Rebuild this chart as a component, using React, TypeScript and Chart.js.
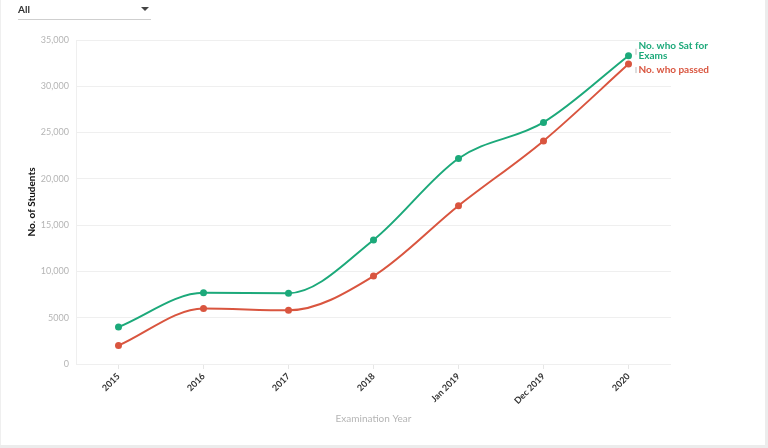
import React, { useEffect, useRef } from "react";
import { Chart, registerables } from "chart.js";

Chart.register(...registerables);

const categories = ["2015", "2016", "2017", "2018", "Jan 2019", "Dec 2019", "2020"];
const satForExams = [4000, 7700, 7650, 13400, 22200, 26100, 33300];
const passed = [2000, 6000, 5800, 9500, 17100, 24100, 32400];
const yTicks = [0, 5000, 10000, 15000, 20000, 25000, 30000, 35000];
const seriesNames = ["No. who Sat for Exams", "No. who passed"];
const endLabels = [["No. who Sat for", "Exams"], ["No. who passed"]];

const GREEN = "#1ca97a";
const RED = "#d9553f";
const FONT = "Lato, 'Noto Sans', sans-serif";

const endLabelPlugin = {
  id: "endLabels",
  afterDatasetsDraw(chart: any) {
    const ctx = chart.ctx;
    const x = chart.scales.x;
    const y = chart.scales.y;
    const lastIdx = categories.length - 1;
    const px = x.getPixelForValue(lastIdx);
    ctx.save();
    ctx.font = `bold 10px ${FONT}`;
    ctx.textBaseline = "middle";
    ctx.textAlign = "left";
    // green label (two lines) above its point
    const gy = y.getPixelForValue(satForExams[lastIdx]);
    const ry = y.getPixelForValue(passed[lastIdx]);
    ctx.fillStyle = GREEN;
    ctx.fillText(endLabels[0][0], px + 10, gy - 10);
    ctx.fillText(endLabels[0][1], px + 10, gy);
    ctx.fillStyle = RED;
    ctx.fillText(endLabels[1][0], px + 10, ry + 6);
    // leader lines
    ctx.strokeStyle = "#bbbbbb";
    ctx.lineWidth = 1;
    ctx.beginPath();
    ctx.moveTo(px + 7.5, gy - 7);
    ctx.lineTo(px + 7.5, gy - 1);
    ctx.moveTo(px + 7.5, ry + 3);
    ctx.lineTo(px + 7.5, ry + 9);
    ctx.stroke();
    ctx.restore();
  },
};

export default function App() {
  const ref = useRef<HTMLCanvasElement>(null);
  useEffect(() => {
    if (!ref.current) return;
    const chart = new Chart(ref.current, {
      type: "line",
      data: {
        labels: categories,
        datasets: [
          {
            label: seriesNames[0],
            data: satForExams,
            borderColor: GREEN,
            backgroundColor: GREEN,
            borderWidth: 2,
            pointRadius: 3.5,
            pointBorderWidth: 0,
            cubicInterpolationMode: "monotone",
          },
          {
            label: seriesNames[1],
            data: passed,
            borderColor: RED,
            backgroundColor: RED,
            borderWidth: 2,
            pointRadius: 3.5,
            pointBorderWidth: 0,
            cubicInterpolationMode: "monotone",
          },
        ],
      },
      options: {
        animation: false,
        responsive: false,
        layout: { padding: { top: 40, right: 95, left: 0, bottom: 0 } },
        plugins: { legend: { display: false }, tooltip: { enabled: false } },
        scales: {
          x: {
            offset: true,
            grid: { drawOnChartArea: false, drawTicks: true, tickLength: 5, color: "#e6e6e6" },
            border: { display: false },
            ticks: {
              minRotation: 45,
              maxRotation: 45,
              color: "#333333",
              padding: 2,
              font: { family: FONT, size: 9, weight: "bold" },
            },
            title: {
              display: true,
              text: "Examination Year",
              color: "#b5b5b5",
              padding: { top: 0, bottom: 20 },
              font: { family: FONT, size: 10 },
            },
            afterFit(scale: any) {
              scale.height = 445 - 364;
            },
          },
          y: {
            min: 0,
            max: 35000,
            afterBuildTicks(scale: any) {
              scale.ticks = yTicks.map((v) => ({ value: v }));
            },
            grid: { drawTicks: false, color: "#efefef" },
            border: { display: true, color: "#efefef" },
            ticks: {
              color: "#b5b5b5",
              padding: 7,
              font: { family: FONT, size: 9 },
              callback: (v: any) => (v >= 10000 ? Number(v).toLocaleString("en-US") : String(v)),
            },
            title: {
              display: true,
              text: "No. of Students",
              color: "#111111",
              padding: { top: 25, bottom: 0 },
              font: { family: FONT, size: 10, weight: "bold" },
            },
            afterFit(scale: any) {
              scale.width = 75;
            },
          },
        },
      },
      plugins: [endLabelPlugin],
    } as any);
    return () => chart.destroy();
  }, []);

  return (
    <div style={{ position: "fixed", left: 0, top: 0, width: 768, height: 448, background: "#ececec", fontFamily: FONT }}>
      <div style={{ position: "absolute", left: 0, top: 0, width: 764, height: 445, background: "#ffffff", borderLeft: "1px solid #efefef" }}>
        <canvas ref={ref} width={765} height={445} style={{ position: "absolute", left: 0, top: 0 }} />
        <div style={{ position: "absolute", left: 17, top: 3, width: 133, height: 16, borderBottom: "1px solid #cfcfcf" }}>
          <span style={{ position: "absolute", left: 0, top: 0, fontSize: 10, fontWeight: "bold", color: "#333", lineHeight: "12px" }}>All</span>
          <span style={{ position: "absolute", right: 2, top: 4, width: 0, height: 0, borderLeft: "4px solid transparent", borderRight: "4px solid transparent", borderTop: "4px solid #444" }} />
        </div>
      </div>
    </div>
  );
}
